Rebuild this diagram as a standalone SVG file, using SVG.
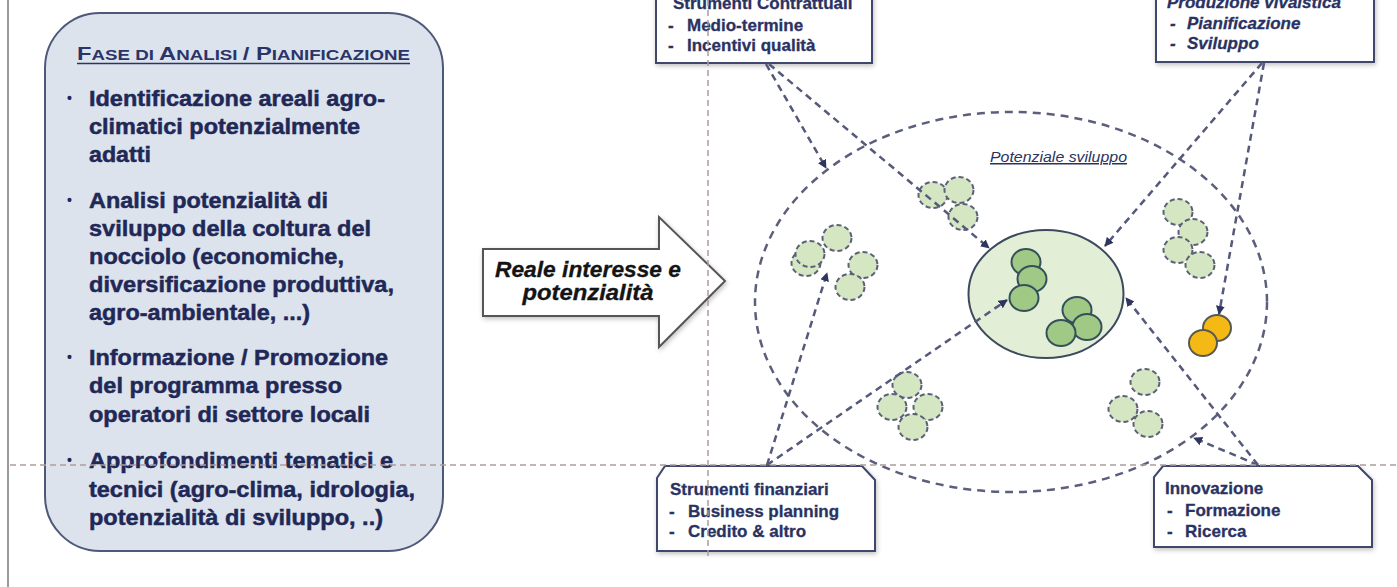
<svg xmlns="http://www.w3.org/2000/svg" width="1397" height="587" viewBox="0 0 1397 587">
<style>
.bul{font-family:"Liberation Sans",Arial,sans-serif;font-weight:bold;font-size:22px;fill:#1f2857;stroke:#1f2857;stroke-width:0.5}
.dot{font-family:"Liberation Sans",Arial,sans-serif;font-weight:bold;font-size:14px;fill:#1f2857}
.ttl{font-family:"Liberation Sans",Arial,sans-serif;font-weight:bold;font-size:19px;fill:#2b3468}
.bx{font-family:"Liberation Sans",Arial,sans-serif;font-weight:bold;font-size:17px;fill:#2a3262;stroke:#2a3262;stroke-width:0.3}
.bxi{font-family:"Liberation Sans",Arial,sans-serif;font-weight:bold;font-style:italic;font-size:17px;fill:#2a3262;stroke:#2a3262;stroke-width:0.3}
.arr{font-family:"Liberation Sans",Arial,sans-serif;font-weight:bold;font-style:italic;font-size:22px;fill:#141414;stroke:#141414;stroke-width:0.3}
.lbl{font-family:"Liberation Sans",Arial,sans-serif;font-style:italic;font-size:15px;fill:#2a3262;text-decoration:underline}
.box{fill:#ffffff;stroke:#3f476c;stroke-width:2}
.con{fill:none;stroke:#55597a;stroke-width:2.5;stroke-dasharray:7 5}
.lg{fill:#d4e7c2;stroke:#5c6078;stroke-width:2;stroke-dasharray:5 3}
.dg{fill:#9fc985;stroke:#35505a;stroke-width:2}
.yl{fill:#f5b916;stroke:#5a5a50;stroke-width:2}
.guide{fill:none;stroke:#b09c9c;stroke-width:1.5;stroke-dasharray:6 4}
</style>
<defs>
<marker id="ah" viewBox="0 0 10 10" refX="9" refY="5" markerWidth="9" markerHeight="9" markerUnits="userSpaceOnUse" orient="auto"><path d="M0,0 L10,5 L0,10 z" fill="#2e3660"/></marker>
<filter id="sh" x="-10%" y="-10%" width="120%" height="120%"><feGaussianBlur in="SourceAlpha" stdDeviation="2.5"/><feOffset dx="1" dy="2" result="b"/><feComponentTransfer><feFuncA type="linear" slope="0.25"/></feComponentTransfer><feMerge><feMergeNode/><feMergeNode in="SourceGraphic"/></feMerge></filter>
</defs>
<rect width="1397" height="587" fill="#ffffff"/>
<line x1="8" y1="0" x2="8" y2="587" stroke="#7a7a7a" stroke-width="1.5"/>

<g id="fase-analisi">
<rect x="45" y="13" width="398" height="538" rx="55" fill="#dde3ec" stroke="#4e5878" stroke-width="2"/>
<text class="ttl" x="77" y="60" textLength="333" lengthAdjust="spacingAndGlyphs">F<tspan font-size="15">ASE DI </tspan>A<tspan font-size="15">NALISI </tspan>/ P<tspan font-size="15">IANIFICAZIONE</tspan></text>
<line x1="77" y1="63.5" x2="410" y2="63.5" stroke="#2b3468" stroke-width="1.5"/>
<text class="dot" x="67" y="103">•</text>
<text class="bul" x="89" y="106" textLength="296" lengthAdjust="spacingAndGlyphs">Identificazione areali agro-</text>
<text class="bul" x="89" y="134" textLength="271" lengthAdjust="spacingAndGlyphs">climatici potenzialmente</text>
<text class="bul" x="89" y="162" textLength="62" lengthAdjust="spacingAndGlyphs">adatti</text>
<text class="dot" x="67" y="205">•</text>
<text class="bul" x="89" y="208" textLength="239" lengthAdjust="spacingAndGlyphs">Analisi potenzialità di</text>
<text class="bul" x="89" y="236" textLength="282" lengthAdjust="spacingAndGlyphs">sviluppo della coltura del</text>
<text class="bul" x="89" y="264" textLength="255" lengthAdjust="spacingAndGlyphs">nocciolo (economiche,</text>
<text class="bul" x="89" y="292" textLength="305" lengthAdjust="spacingAndGlyphs">diversificazione produttiva,</text>
<text class="bul" x="89" y="320" textLength="221" lengthAdjust="spacingAndGlyphs">agro-ambientale, ...)</text>
<text class="dot" x="67" y="362">•</text>
<text class="bul" x="89" y="365" textLength="299" lengthAdjust="spacingAndGlyphs">Informazione / Promozione</text>
<text class="bul" x="89" y="393" textLength="253" lengthAdjust="spacingAndGlyphs">del programma presso</text>
<text class="bul" x="89" y="422" textLength="281" lengthAdjust="spacingAndGlyphs">operatori di settore locali</text>
<text class="dot" x="67" y="465">•</text>
<text class="bul" x="89" y="468" textLength="304" lengthAdjust="spacingAndGlyphs">Approfondimenti tematici e</text>
<text class="bul" x="89" y="497" textLength="326" lengthAdjust="spacingAndGlyphs">tecnici (agro-clima, idrologia,</text>
<text class="bul" x="89" y="525" textLength="294" lengthAdjust="spacingAndGlyphs">potenzialità di sviluppo, ..)</text>
</g>

<g id="freccia-interesse">
<path d="M483,249 L659,249 L659,217 L725,281 L659,347 L659,316 L483,316 Z" fill="#ffffff" stroke="#555555" stroke-width="2" filter="url(#sh)"/>
<text class="arr" x="588" y="277" text-anchor="middle" textLength="186" lengthAdjust="spacingAndGlyphs">Reale interesse e</text>
<text class="arr" x="588" y="300" text-anchor="middle" textLength="131" lengthAdjust="spacingAndGlyphs">potenzialità</text>
</g>

<g id="potenziale-sviluppo">
<ellipse cx="1011" cy="302" rx="256" ry="190" fill="none" stroke="#5b5f7c" stroke-width="2.5" stroke-dasharray="8 6"/>
<text class="lbl" x="990" y="162" textLength="137" lengthAdjust="spacingAndGlyphs">Potenziale sviluppo</text>
</g>

<g id="clusters">
<ellipse class="lg" cx="933" cy="195" rx="14.5" ry="13"/>
<ellipse class="lg" cx="959" cy="190" rx="14.5" ry="13"/>
<ellipse class="lg" cx="963" cy="217" rx="14.5" ry="13"/>
<ellipse class="lg" cx="837" cy="238" rx="14.5" ry="13"/>
<ellipse class="lg" cx="806" cy="263" rx="14.5" ry="13"/>
<ellipse class="lg" cx="810" cy="254" rx="14.5" ry="13"/>
<ellipse class="lg" cx="863" cy="265" rx="14.5" ry="13"/>
<ellipse class="lg" cx="850" cy="287" rx="14.5" ry="13"/>
<ellipse class="lg" cx="907" cy="385" rx="14.5" ry="13"/>
<ellipse class="lg" cx="892" cy="407" rx="14.5" ry="13"/>
<ellipse class="lg" cx="928" cy="407" rx="14.5" ry="13"/>
<ellipse class="lg" cx="913" cy="427" rx="14.5" ry="13"/>
<ellipse class="lg" cx="1145" cy="382" rx="14.5" ry="13"/>
<ellipse class="lg" cx="1123" cy="409" rx="14.5" ry="13"/>
<ellipse class="lg" cx="1148" cy="424" rx="14.5" ry="13"/>
<ellipse class="lg" cx="1178" cy="212" rx="14.5" ry="13"/>
<ellipse class="lg" cx="1193" cy="232" rx="14.5" ry="13"/>
<ellipse class="lg" cx="1178" cy="250" rx="14.5" ry="13"/>
<ellipse class="lg" cx="1200" cy="265" rx="14.5" ry="13"/>
<ellipse class="yl" cx="1217" cy="328" rx="14" ry="13"/>
<ellipse class="yl" cx="1203" cy="343" rx="14" ry="13"/>
</g>

<g id="area-centrale">
<ellipse cx="1046" cy="294" rx="77.5" ry="64" fill="#e2efd6" stroke="#3d4a5e" stroke-width="2"/>
<ellipse class="dg" cx="1026" cy="262" rx="14.5" ry="13"/>
<ellipse class="dg" cx="1032" cy="279" rx="14.5" ry="13"/>
<ellipse class="dg" cx="1024" cy="298" rx="14.5" ry="13"/>
<ellipse class="dg" cx="1077" cy="310" rx="14.5" ry="13"/>
<ellipse class="dg" cx="1087" cy="327" rx="14.5" ry="13"/>
<ellipse class="dg" cx="1061" cy="333" rx="14.5" ry="13"/>
</g>

<g id="strumenti-contrattuali">
<rect class="box" x="656" y="-20" width="216" height="83" filter="url(#sh)"/>
<text class="bx" x="673" y="9">Strumenti Contrattuali</text>
<text class="bx" x="668" y="31">-</text><text class="bx" x="687" y="31">Medio-termine</text>
<text class="bx" x="668" y="51">-</text><text class="bx" x="687" y="51">Incentivi qualità</text>
</g>

<g id="produzione-vivaistica">
<rect class="box" x="1156" y="-20" width="218" height="82" filter="url(#sh)"/>
<text class="bxi" x="1167" y="8">Produzione vivaistica</text>
<text class="bxi" x="1170" y="29">-</text><text class="bxi" x="1187" y="29">Pianificazione</text>
<text class="bxi" x="1170" y="49">-</text><text class="bxi" x="1187" y="49">Sviluppo</text>
</g>

<g id="strumenti-finanziari">
<path class="box" d="M665,466 L862,466 L875,480 L875,551 L657,551 L657,478 Z" filter="url(#sh)"/>
<text class="bx" x="670" y="495">Strumenti finanziari</text>
<text class="bx" x="669" y="517">-</text><text class="bx" x="688" y="517">Business planning</text>
<text class="bx" x="669" y="537">-</text><text class="bx" x="688" y="537">Credito &amp; altro</text>
</g>

<g id="innovazione">
<path class="box" d="M1163,466 L1358,466 L1372,480 L1372,547 L1154,547 L1154,477 Z" filter="url(#sh)"/>
<text class="bx" x="1165" y="494">Innovazione</text>
<text class="bx" x="1167" y="516">-</text><text class="bx" x="1185" y="516">Formazione</text>
<text class="bx" x="1167" y="537">-</text><text class="bx" x="1185" y="537">Ricerca</text>
</g>

<g id="connectors">
<line class="con" x1="766" y1="64" x2="826" y2="168" marker-end="url(#ah)"/>
<line class="con" x1="769" y1="64" x2="989" y2="248" marker-end="url(#ah)"/>
<line class="con" x1="1262" y1="63" x2="1105" y2="246" marker-end="url(#ah)"/>
<line class="con" x1="1264" y1="63" x2="1219" y2="314" marker-end="url(#ah)"/>
<line class="con" x1="767" y1="465" x2="827" y2="273" marker-end="url(#ah)"/>
<line class="con" x1="767" y1="465" x2="1007" y2="300" marker-end="url(#ah)"/>
<line class="con" x1="1258" y1="465" x2="1126" y2="298" marker-end="url(#ah)"/>
<line class="con" x1="1258" y1="465" x2="1194" y2="438" marker-end="url(#ah)"/>
</g>

<g id="guides">
<line class="guide" x1="708" y1="0" x2="708" y2="560"/>
<line class="guide" x1="10" y1="465" x2="1397" y2="465"/>
</g>
</svg>
